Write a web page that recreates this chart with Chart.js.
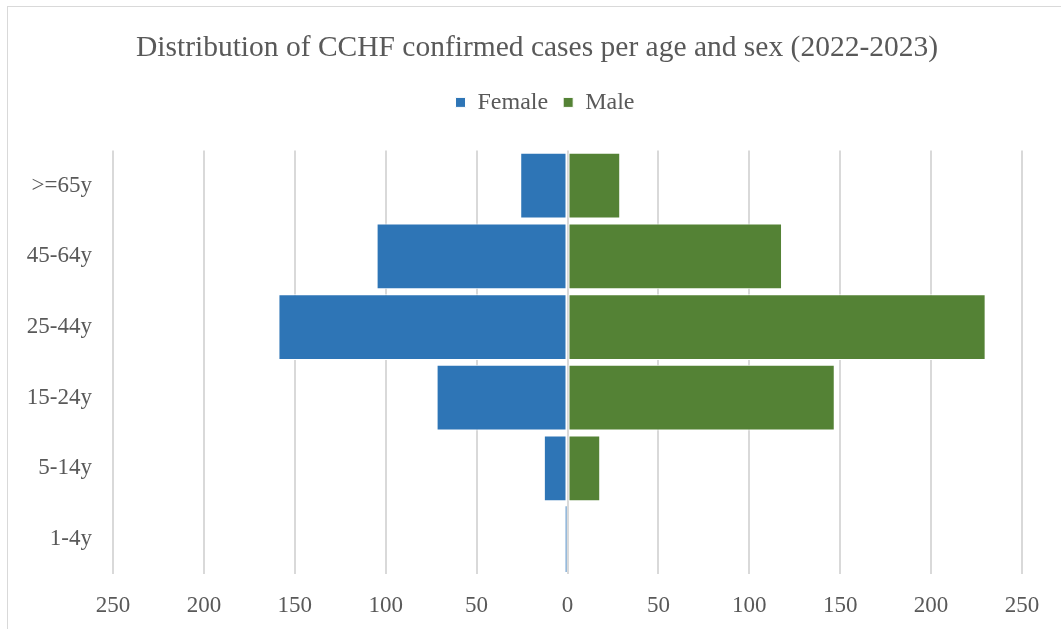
<!DOCTYPE html>
<html>
<head>
<meta charset="utf-8">
<script src="https://cdn.jsdelivr.net/npm/chart.js@4/dist/chart.umd.min.js"></script>
<style>
html,body{margin:0;padding:0;background:#fff;}
#wrap{position:relative;width:1061px;height:629px;overflow:hidden;}
#frame{position:absolute;left:7px;top:6px;width:1100px;height:700px;border:1px solid #d9d9d9;box-sizing:border-box;}
canvas{position:absolute;left:7px;top:0;}
</style>
</head>
<body>
<div id="wrap"><div id="frame"></div><canvas id="c" width="1060" height="629"></canvas></div>
<script>
const categories = ['>=65y', '45-64y', '25-44y', '15-24y', '5-14y', '1-4y'];
const female = [26, 105, 159, 72, 13, 1];
const male = [29, 118, 230, 147, 18, 0];
const xTicks = [-250, -200, -150, -100, -50, 0, 50, 100, 150, 200, 250];

const FONT = "'Liberation Serif', 'Times New Roman', serif";
const TEXT = '#595959';

const headerLayout = {
  id: 'headerLayout',
  beforeUpdate(chart) {
    const lg = chart.legend;
    if (lg && !lg._patched) {
      const orig = lg.fit;
      lg.fit = function () { orig.call(this); this.height += 26; };
      lg._patched = true;
    }
  },
  afterLayout(chart) {
    const t = chart.titleBlock;
    if (t) { t.left = 0; t.right = chart.width; t.width = chart.width; }
    const lg = chart.legend;
    if (lg) { lg.left = 8; lg.right = chart.width + 8; lg.width = chart.width; }
  }
};

const bw = ctx => (Math.abs(ctx.raw) < 3 ? 0 : 1);

new Chart(document.getElementById('c'), {
  type: 'bar',
  data: {
    labels: categories,
    datasets: [
      { label: 'Female', data: female.map(v => -v), backgroundColor: '#2E75B6', borderColor: '#ffffff', borderWidth: bw, borderSkipped: false },
      { label: 'Male', data: male, backgroundColor: '#548235', borderColor: '#ffffff', borderWidth: bw, borderSkipped: false }
    ]
  },
  plugins: [headerLayout],
  options: {
    indexAxis: 'y',
    responsive: false,
    animation: false,
    layout: { padding: { left: 0, right: 45, top: 0, bottom: 1 } },
    plugins: {
      title: { display: true, text: 'Distribution of CCHF confirmed cases per age and sex (2022-2023)', color: TEXT, font: { family: FONT, size: 29.5, weight: 'normal' }, padding: { top: 31, bottom: 9 } },
      legend: { position: 'top', labels: { color: TEXT, font: { family: FONT, size: 24 }, boxWidth: 10, boxHeight: 10, padding: 15 } },
      tooltip: { enabled: false }
    },
    scales: {
      x: {
        stacked: true,
        min: -250, max: 250,
        afterBuildTicks: s => { s.ticks = xTicks.map(v => ({ value: v })); },
        afterFit: s => { s.height -= 10; },
        ticks: { color: TEXT, font: { family: FONT, size: 23 }, padding: 18, callback: v => Math.abs(v) },
        grid: { color: '#d9d9d9', lineWidth: 2, drawTicks: false },
        border: { display: false }
      },
      y: {
        stacked: true,
        afterFit: s => { s.width = 106; },
        ticks: { color: TEXT, font: { family: FONT, size: 23 }, padding: 13 },
        grid: { display: false },
        border: { display: false }
      }
    },
    datasets: { bar: { categoryPercentage: 1.0, barPercentage: 0.93 } }
  }
});
</script>
</body>
</html>
